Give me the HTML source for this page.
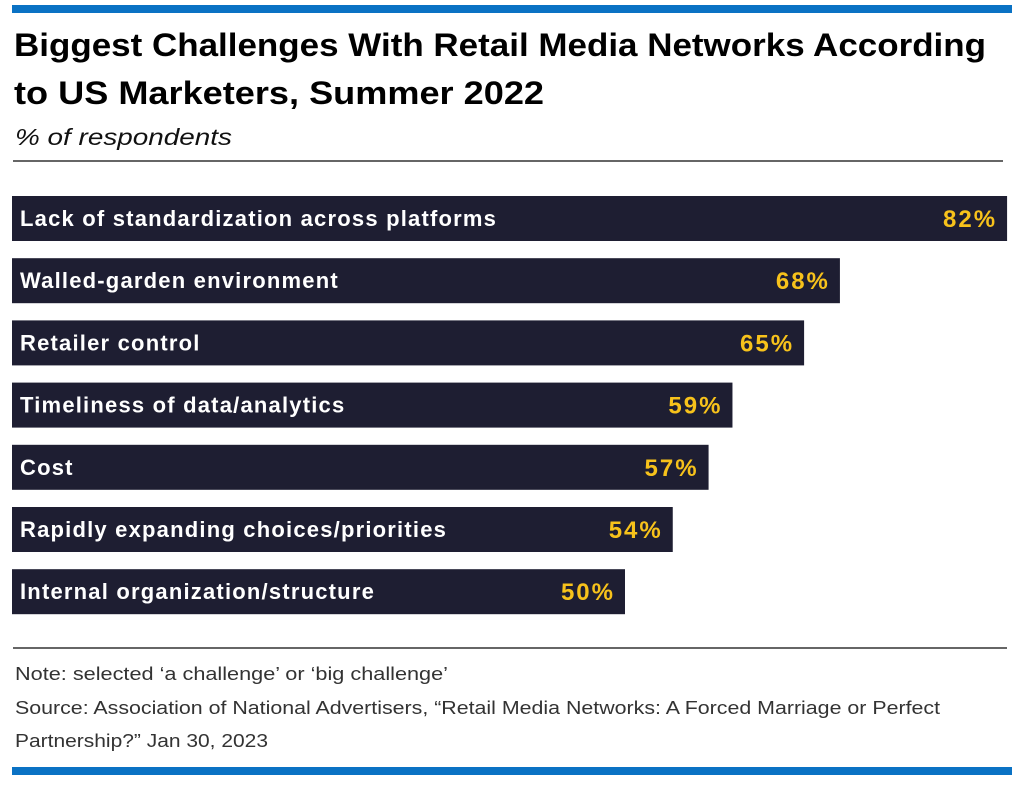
<!DOCTYPE html>
<html><head><meta charset="utf-8"><style>
html,body{margin:0;padding:0;background:#fff;}
svg{display:block;font-family:"Liberation Sans",Arial,sans-serif;}
</style></head><body>
<svg id="chart" width="1024" height="795" viewBox="0 0 1024 795">
<rect x="12" y="5" width="1000" height="8" fill="#0a72c4"/>
<text x="14" y="56" font-size="32" font-weight="bold" fill="#000" textLength="972" lengthAdjust="spacingAndGlyphs">Biggest Challenges With Retail Media Networks According</text>
<text x="14" y="104" font-size="32" font-weight="bold" fill="#000" textLength="530" lengthAdjust="spacingAndGlyphs">to US Marketers, Summer 2022</text>
<text x="15" y="145" font-size="23" font-style="italic" fill="#111" textLength="217" lengthAdjust="spacingAndGlyphs">% of respondents</text>
<line x1="13" y1="161" x2="1003" y2="161" stroke="#333" stroke-width="1.5"/>
<g id="bars"></g>
<line x1="13" y1="648" x2="1007" y2="648" stroke="#333" stroke-width="1.5"/>
<text x="15" y="680" font-size="18.5" fill="#333" textLength="433" lengthAdjust="spacingAndGlyphs">Note: selected ‘a challenge’ or ‘big challenge’</text>
<text x="15" y="714" font-size="18.5" fill="#333" textLength="925" lengthAdjust="spacingAndGlyphs">Source: Association of National Advertisers, “Retail Media Networks: A Forced Marriage or Perfect</text>
<text x="15" y="747" font-size="18.5" fill="#333" textLength="253" lengthAdjust="spacingAndGlyphs">Partnership?” Jan 30, 2023</text>
<rect x="12" y="767" width="1000" height="8" fill="#0a72c4"/>
</svg>
<script>
const categories = ["Lack of standardization across platforms","Walled-garden environment","Retailer control","Timeliness of data/analytics","Cost","Rapidly expanding choices/priorities","Internal organization/structure"];
const values = [82,68,65,59,57,54,50];
const valueLabels = ["82%","68%","65%","59%","57%","54%","50%"];
const NS="http://www.w3.org/2000/svg";
const g=document.getElementById('bars');
function xScale(v){return 28+v*11.94;}
function yScale(i){return 196+i*62.2;}
const barH=45;
categories.forEach((c,i)=>{
  const y=yScale(i), x1=xScale(values[i]);
  const r=document.createElementNS(NS,'rect');
  r.setAttribute('x',12);r.setAttribute('y',y);r.setAttribute('width',x1-12);r.setAttribute('height',barH);r.setAttribute('fill','#1e1e32');
  
  
  g.appendChild(r);
  const t=document.createElementNS(NS,'text');
  t.setAttribute('x',20);t.setAttribute('y',y+30);t.setAttribute('font-size','22');t.setAttribute('font-weight','bold');t.setAttribute('fill','#fff');t.setAttribute('letter-spacing','1.2');
  t.textContent=c;
  
  
  g.appendChild(t);
  const v=document.createElementNS(NS,'text');
  v.setAttribute('x',x1-10);v.setAttribute('y',y+31);v.setAttribute('font-size','24');v.setAttribute('font-weight','bold');v.setAttribute('fill','#f7c21b');v.setAttribute('text-anchor','end');v.setAttribute('letter-spacing','2');
  v.textContent=valueLabels[i];
  
  
  g.appendChild(v);
});
</script>
</body></html>
